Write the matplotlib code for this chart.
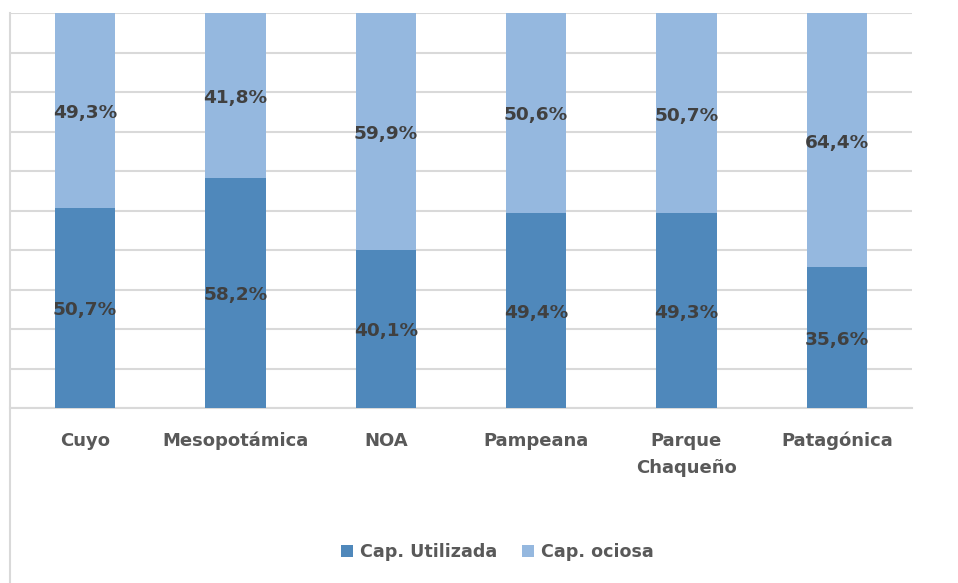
import matplotlib.pyplot as plt
import numpy as np
from matplotlib.lines import Line2D

regiones = ['Cuyo', 'Mesopotámica', 'NOA', 'Pampeana', 'Parque\nChaqueño', 'Patagónica']
utilizada = [50.7, 58.2, 40.1, 49.4, 49.3, 35.6]
ociosa = [49.3, 41.8, 59.9, 50.6, 50.7, 64.4]
etiquetas_util = ['50,7%', '58,2%', '40,1%', '49,4%', '49,3%', '35,6%']
etiquetas_ocio = ['49,3%', '41,8%', '59,9%', '50,6%', '50,7%', '64,4%']

c_util = '#4F88BB'
c_ocio = '#95B8DF'
gris = '#D9D9D9'

plt.rcParams['font.family'] = ['DejaVu Sans']

fig = plt.figure(figsize=(9.58, 5.83), dpi=100)
ax = fig.add_axes([10/958, (583-408)/583, 902/958, 395/583])

x = np.arange(len(regiones))
b1 = ax.bar(x, utilizada, width=0.4, color=c_util, zorder=3)
b2 = ax.bar(x, ociosa, bottom=utilizada, width=0.4, color=c_ocio, zorder=3)

for i in range(len(x)):
    ax.text(x[i], utilizada[i] / 2 - 0.6, etiquetas_util[i], ha='center', va='center',
            fontsize=13.3, fontweight='bold', color='#404040', zorder=4)
    ax.text(x[i], utilizada[i] + ociosa[i] / 2 - 0.6, etiquetas_ocio[i], ha='center', va='center',
            fontsize=13.3, fontweight='bold', color='#404040', zorder=4)

ax.set_xlim(-0.5, len(regiones) - 0.5)
ax.set_ylim(0, 100)
ax.set_yticks(np.arange(0, 101, 10))
ax.yaxis.grid(True, color=gris, linewidth=1.5, zorder=0)
ax.tick_params(axis='y', left=False, labelleft=False)
ax.tick_params(axis='x', length=0, pad=17)
ax.set_xticks(x)
ax.set_xticklabels(regiones, fontsize=13, fontweight='bold', color='#595959', linespacing=1.65)
for s in ['top', 'right', 'left']:
    ax.spines[s].set_visible(False)
ax.spines['bottom'].set_color(gris)
ax.spines['bottom'].set_linewidth(1.5)

# borde izquierdo del área del gráfico
fig.add_artist(Line2D([10/958, 10/958], [0, (583-13)/583], color=gris, linewidth=1.5,
                      transform=fig.transFigure))

ax.legend([b1, b2], ['Cap. Utilizada', 'Cap. ociosa'], loc='center',
          bbox_to_anchor=(0.54, -0.365), ncol=2, frameon=False,
          handlelength=0.7, handleheight=0.7, handletextpad=0.4, columnspacing=1.4,
          prop={'weight': 'bold', 'size': 12.6})
for t in ax.get_legend().get_texts():
    t.set_color('#595959')

fig.savefig('out.png', dpi=100)
